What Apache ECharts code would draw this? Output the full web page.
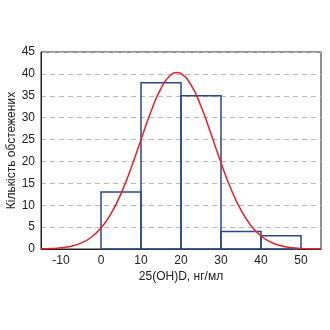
<!DOCTYPE html>
<html>
<head>
<meta charset="utf-8">
<script src="https://cdn.jsdelivr.net/npm/echarts@6/dist/echarts.min.js"></script>
<style>
html,body{margin:0;padding:0;background:#fff;}
#chart{width:330px;height:330px;}
</style>
</head>
<body>
<div id="chart"></div>
<script>
// Histogram bins (ng/ml) and counts
var binStarts = [0, 10, 20, 30, 40];
var binEnds = [10, 20, 30, 40, 50];
var counts = [13, 38, 35, 4, 3];

// Fitted normal curve, sampled points
var curveX = [-15, -12.5, -10, -7.5, -5, -2.5, 0, 2.5, 5, 7.5, 10, 12.5, 15, 17.5, 19, 20, 22.5, 25, 27.5, 30, 32.5, 35, 37.5, 40, 42.5, 45, 47.5, 50, 52.5, 55];
var curveY = [0.04, 0.11, 0.28, 0.64, 1.35, 2.63, 4.79, 8.06, 12.65, 18.45, 24.98, 31.4, 36.7, 39.8, 40.3, 40.06, 37.5, 32.6, 26.3, 19.7, 13.7, 8.88, 5.33, 2.98, 1.54, 0.74, 0.33, 0.14, 0.05, 0.02];

// Axis ticks
var xTicks = [-10, 0, 10, 20, 30, 40, 50];
var yTicks = [0, 5, 10, 15, 20, 25, 30, 35, 40, 45];

var barData = binStarts.map(function (s, i) { return [s, binEnds[i], counts[i]]; });
var lineData = curveX.map(function (x, i) { return [x, curveY[i]]; });

var chart = echarts.init(document.getElementById('chart'), null, {renderer: 'canvas'});
var font = 'Liberation Sans, Arial, sans-serif';
chart.setOption({
  animation: false,
  grid: {
    left: 41, right: 9, top: 52, bottom: 81,
    containLabel: false, outerBoundsMode: 'none',
    show: true, borderColor: '#222', borderWidth: 1, backgroundColor: 'transparent'
  },
  xAxis: {
    type: 'value', min: -15, max: 55, interval: 5,
    axisLine: {show: true, onZero: false, lineStyle: {color: '#222'}},
    axisTick: {show: false},
    splitLine: {show: false},
    axisLabel: {
      color: '#222', fontSize: 12, fontFamily: font, margin: 6,
      showMinLabel: false, showMaxLabel: false,
      formatter: function (v) { return xTicks.indexOf(v) >= 0 ? String(v) : ''; }
    },
    name: '25(OH)D, нг/мл', nameLocation: 'middle', nameGap: 22, nameMoveOverlap: false,
    nameTextStyle: {color: '#222', fontSize: 12, fontFamily: font}
  },
  yAxis: {
    type: 'value', min: 0, max: 45, interval: 5,
    axisLine: {show: true, onZero: false, lineStyle: {color: '#222'}},
    axisTick: {show: false},
    splitLine: {show: true, lineStyle: {color: '#bbb', type: [5, 4], width: 1}},
    axisLabel: {
      color: '#222', fontSize: 12, fontFamily: font, margin: 6,
      formatter: function (v) { return yTicks.indexOf(v) >= 0 ? String(v) : ''; }
    },
    name: 'Кількість обстежених', nameLocation: 'middle', nameGap: 23, nameMoveOverlap: false,
    nameTextStyle: {color: '#222', fontSize: 12, fontFamily: font}
  },
  series: [
    {
      type: 'custom',
      data: barData,
      encode: {x: [0, 1], y: 2},
      renderItem: function (params, api) {
        var p0 = api.coord([api.value(0), 0]);
        var p1 = api.coord([api.value(1), api.value(2)]);
        return {
          type: 'rect',
          shape: {x: p0[0], y: p1[1], width: p1[0] - p0[0], height: p0[1] - p1[1]},
          style: {fill: 'none', stroke: '#2b4a7e', lineWidth: 1.5}
        };
      },
      z: 2
    },
    {
      type: 'line',
      data: lineData,
      smooth: true,
      showSymbol: false,
      lineStyle: {color: '#e8202a', width: 1.5},
      z: 3
    }
  ]
});
</script>
</body>
</html>
